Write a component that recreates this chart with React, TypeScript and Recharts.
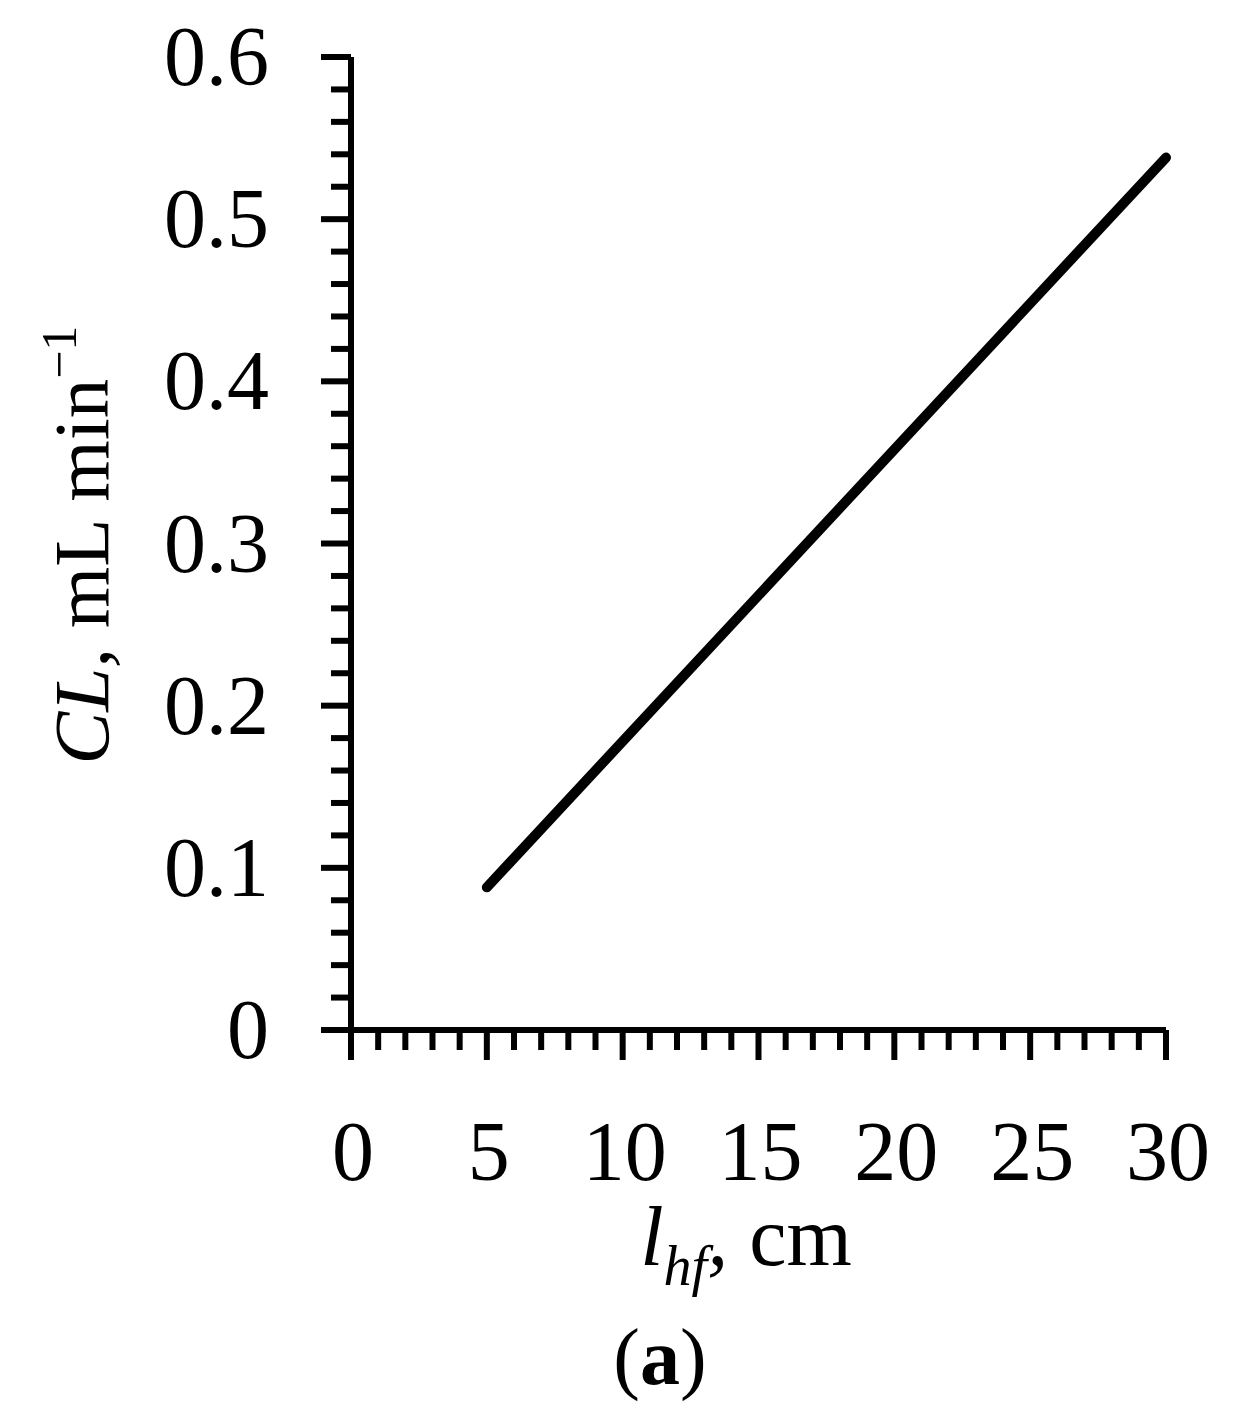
import React from "react";
import { LineChart, Line, XAxis, YAxis } from "recharts";

// Data
const lhf = [5, 30];
const clValues = [0.088, 0.538];

const xMajorTicks = [0, 5, 10, 15, 20, 25, 30];
const yMajorTicks = [0, 0.1, 0.2, 0.3, 0.4, 0.5, 0.6];
const yTickLabels = ["0", "0.1", "0.2", "0.3", "0.4", "0.5", "0.6"];

const xAllTicks = Array.from({ length: 31 }, (_, i) => i);
const yAllTicks = Array.from({ length: 31 }, (_, i) => Math.round(i * 2) / 100);

const data = lhf.map((x, i) => ({ x, y: clValues[i] }));

const FONT = "'Liberation Serif', 'Times New Roman', serif";
const W = 1241;
const H = 1411;
const SW = 6;

const YTick = (props: any) => {
  const { x, y, payload } = props;
  const v = payload.value;
  const idx = yMajorTicks.findIndex((m) => Math.abs(m - v) < 1e-6);
  const major = idx >= 0;
  return (
    <g>
      <line x1={x - (major ? 30 : 20)} x2={x} y1={y} y2={y} stroke="#000" strokeWidth={SW} />
      {major && (
        <text x={x - 82} y={y} dy={28} textAnchor="end" fontFamily={FONT} fontSize={84} fill="#000">
          {yTickLabels[idx]}
        </text>
      )}
    </g>
  );
};

const XTick = (props: any) => {
  const { x, y, payload } = props;
  const v = payload.value;
  const major = xMajorTicks.includes(v);
  return (
    <g>
      <line x1={x} x2={x} y1={y} y2={y + (major ? 30 : 20)} stroke="#000" strokeWidth={SW} />
      {major && (
        <text x={x + 2} y={y + 150} textAnchor="middle" fontFamily={FONT} fontSize={84} fill="#000">
          {String(v)}
        </text>
      )}
    </g>
  );
};

const YTitle = () => (
  <text
    x={100}
    y={537}
    transform="rotate(-90, 100, 537)"
    textAnchor="middle"
    fontFamily={FONT}
    fontSize={79}
    fill="#000"
  >
    <tspan fontStyle="italic">CL,</tspan>
    <tspan> mL min</tspan>
    <tspan fontSize={50} dy={-32}>−1</tspan>
  </text>
);

const XTitle = () => (
  <g>
    <text x={738} y={1257} textAnchor="middle" fontFamily={FONT} fontSize={84} fill="#000">
      <tspan fontStyle="italic">l</tspan>
      <tspan fontStyle="italic" fontSize={56} dy={20}>hf</tspan>
      <tspan fontStyle="italic" dy={-20}>,</tspan>
      <tspan> cm</tspan>
    </text>
    <text x={652} y={1376} textAnchor="middle" fontFamily={FONT} fontSize={80} fill="#000">
      <tspan>(</tspan>
      <tspan fontWeight="bold">a</tspan>
      <tspan>)</tspan>
    </text>
  </g>
);

export default function App() {
  return (
    <div style={{ width: W, height: H, background: "#fff" }}>
      <LineChart
        width={W}
        height={H}
        data={data}
        margin={{ top: 49, right: 83, bottom: 388, left: 342 }}
      >
        <XAxis
          dataKey="x"
          type="number"
          domain={[0, 30]}
          ticks={xAllTicks}
          interval={0}
          height={1}
          tickSize={0}
          tickMargin={0}
          tickLine={false}
          axisLine={{ stroke: "#000", strokeWidth: SW }}
          tick={<XTick />}
          label={{ content: () => <XTitle /> }}
        />
        <YAxis
          type="number"
          domain={[0, 0.6]}
          ticks={yAllTicks}
          interval={0}
          width={1}
          tickSize={0}
          tickMargin={0}
          tickLine={false}
          axisLine={{ stroke: "#000", strokeWidth: SW }}
          tick={<YTick />}
          label={{ content: () => <YTitle /> }}
        />
        <Line
          type="linear"
          dataKey="y"
          stroke="#000"
          strokeWidth={10}
          strokeLinecap="round"
          dot={false}
          isAnimationActive={false}
        />
      </LineChart>
    </div>
  );
}
